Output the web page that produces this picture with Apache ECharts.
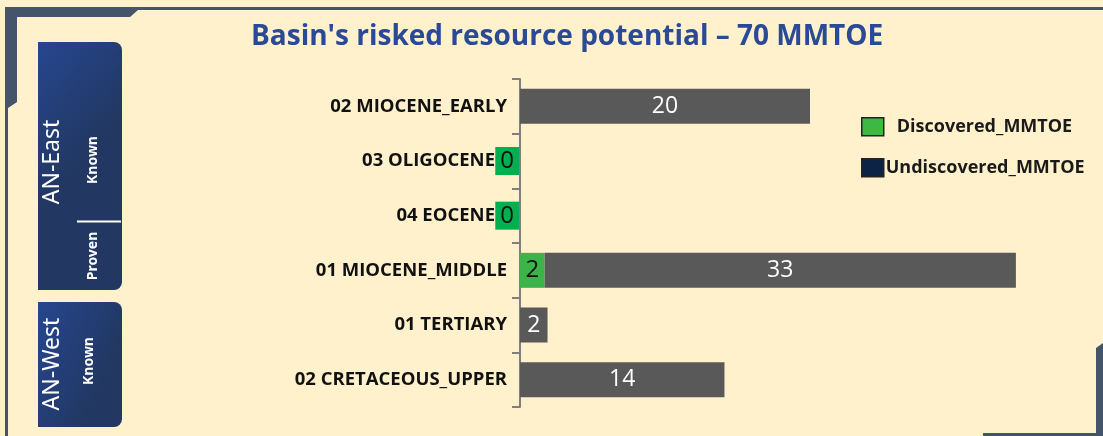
<!DOCTYPE html>
<html>
<head>
<meta charset="utf-8">
<script src="https://cdn.jsdelivr.net/npm/echarts@6/dist/echarts.min.js"></script>
<style>
  html, body { margin: 0; padding: 0; background: #fff1cc; }
  #main { width: 1103px; height: 436px; }
</style>
</head>
<body>
<div id="main"></div>
<script>
var categories = [
  "02 MIOCENE_EARLY",
  "03 OLIGOCENE",
  "04 EOCENE",
  "01 MIOCENE_MIDDLE",
  "01 TERTIARY",
  "02 CRETACEOUS_UPPER"
];
var discovered = ["-", 0, 0, 1.7, "-", "-"];
var undiscovered = [20, "-", "-", 32.5, 1.9, 14.1];

var frameColor = "#44546a";
var panelFill = new echarts.graphic.LinearGradient(0, 0, 1, 0.3, [
  { offset: 0, color: "#26468f" },
  { offset: 1, color: "#223862" }
]);

var legendText = {
  fontFamily: "Open Sans",
  fontWeight: "bold",
  fontSize: 18,
  color: "#1a1a1a"
};

var myChart = echarts.init(document.getElementById("main"));

var option = {
  backgroundColor: "#fff1cc",
  animation: false,
  title: {
    text: "Basin's risked resource potential \u2013 70 MMTOE",
    left: 246,
    top: 18,
    textStyle: {
      fontFamily: "Open Sans",
      fontWeight: "bold",
      fontSize: 28,
      color: "#2a4a98"
    }
  },
  legend: [
    {
      orient: "vertical",
      left: 861,
      top: 117,
      padding: 0,
      itemWidth: 22,
      itemHeight: 18,
      icon: "rect",
      textStyle: Object.assign({ padding: [0, 0, 0, 8] }, legendText),
      data: [{
        name: "Discovered_MMTOE",
        itemStyle: { color: "#3cb843", borderColor: "#222", borderWidth: 1.5 }
      }]
    },
    {
      orient: "vertical",
      left: 861,
      top: 158,
      padding: 0,
      itemWidth: 22,
      itemHeight: 18,
      icon: "rect",
      textStyle: Object.assign({ padding: [0, 0, 0, -3] }, legendText),
      data: [{
        name: "Undiscovered_MMTOE",
        itemStyle: { color: "#0d2346", borderColor: "#222", borderWidth: 1.5 }
      }]
    }
  ],
  grid: {
    left: 520,
    right: 3,
    top: 79,
    bottom: 29
  },
  xAxis: {
    type: "value",
    min: 0,
    max: 40,
    show: false
  },
  yAxis: {
    type: "category",
    inverse: true,
    data: categories,
    axisLine: { show: true, lineStyle: { color: "#7f7f7f", width: 2 } },
    axisTick: { show: true, length: 8, lineStyle: { color: "#7f7f7f", width: 2 } },
    axisLabel: {
      margin: 13,
      fontFamily: "Open Sans",
      fontWeight: "bold",
      fontSize: 18.5,
      color: "#111",
      formatter: function (v, i) {
        return discovered[i] === 0 ? "{z|" + v + "}" : v;
      },
      rich: {
        z: {
          fontFamily: "Open Sans",
          fontWeight: "bold",
          fontSize: 18.5,
          color: "#111",
          padding: [0, 12, 0, 0]
        }
      }
    }
  },
  series: [
    {
      name: "Discovered_MMTOE",
      type: "bar",
      stack: "total",
      barWidth: 35,
      itemStyle: { color: "#3cb44a" },
      label: {
        show: true,
        position: "inside",
        fontFamily: "Open Sans",
        fontSize: 24,
        color: "#111",
        formatter: function (p) { return Math.round(p.value); }
      },
      data: discovered.map(function (v) {
        if (v === 0) {
          return {
            value: v,
            label: {
              position: "left",
              distance: 1,
              backgroundColor: "#00b050",
              padding: [1, 5, 1, 5],
              lineHeight: 26
            }
          };
        }
        return v;
      })
    },
    {
      name: "Undiscovered_MMTOE",
      type: "bar",
      stack: "total",
      barWidth: 35,
      itemStyle: { color: "#595959" },
      label: {
        show: true,
        position: "inside",
        fontFamily: "Open Sans",
        fontSize: 23,
        color: "#ffffff",
        formatter: function (p) { return Math.round(p.value); }
      },
      data: undiscovered
    }
  ],
  graphic: [
    // frame, top-left
    {
      type: "polygon",
      shape: {
        points: [[6, 7], [1103, 7], [1103, 10], [138, 10], [130, 17], [17, 17],
                 [17, 102], [8, 108], [8, 436], [5, 436], [5, 7]]
      },
      style: { fill: frameColor }
    },
    // frame, bottom-right
    {
      type: "polygon",
      shape: {
        points: [[1103, 343], [1096, 348], [1096, 433], [983, 433], [983, 436], [1103, 436]]
      },
      style: { fill: frameColor }
    },
    // side panels
    {
      type: "rect",
      shape: { x: 38, y: 42, width: 84, height: 248, r: [0, 8, 8, 0] },
      style: { fill: panelFill }
    },
    {
      type: "rect",
      shape: { x: 38, y: 302, width: 84, height: 125, r: [0, 8, 8, 0] },
      style: { fill: panelFill }
    },
    {
      type: "line",
      shape: { x1: 77, y1: 221.5, x2: 121, y2: 221.5 },
      style: { stroke: "#ffffff", lineWidth: 2 }
    },
    {
      type: "text",
      x: 52, y: 162, rotation: Math.PI / 2,
      style: {
        text: "AN-East", fill: "#ffffff", align: "center", verticalAlign: "middle",
        font: "23px 'Noto Sans'"
      }
    },
    {
      type: "text",
      x: 93, y: 160, rotation: Math.PI / 2,
      style: {
        text: "Known", fill: "#ffffff", align: "center", verticalAlign: "middle",
        font: "bold 14px 'Noto Sans'"
      }
    },
    {
      type: "text",
      x: 93, y: 256, rotation: Math.PI / 2,
      style: {
        text: "Proven", fill: "#ffffff", align: "center", verticalAlign: "middle",
        font: "bold 14px 'Noto Sans'"
      }
    },
    {
      type: "text",
      x: 52, y: 364, rotation: Math.PI / 2,
      style: {
        text: "AN-West", fill: "#ffffff", align: "center", verticalAlign: "middle",
        font: "23px 'Noto Sans'"
      }
    },
    {
      type: "text",
      x: 89, y: 361, rotation: Math.PI / 2,
      style: {
        text: "Known", fill: "#ffffff", align: "center", verticalAlign: "middle",
        font: "bold 14px 'Noto Sans'"
      }
    }
  ]
};

myChart.setOption(option);
</script>
</body>
</html>
